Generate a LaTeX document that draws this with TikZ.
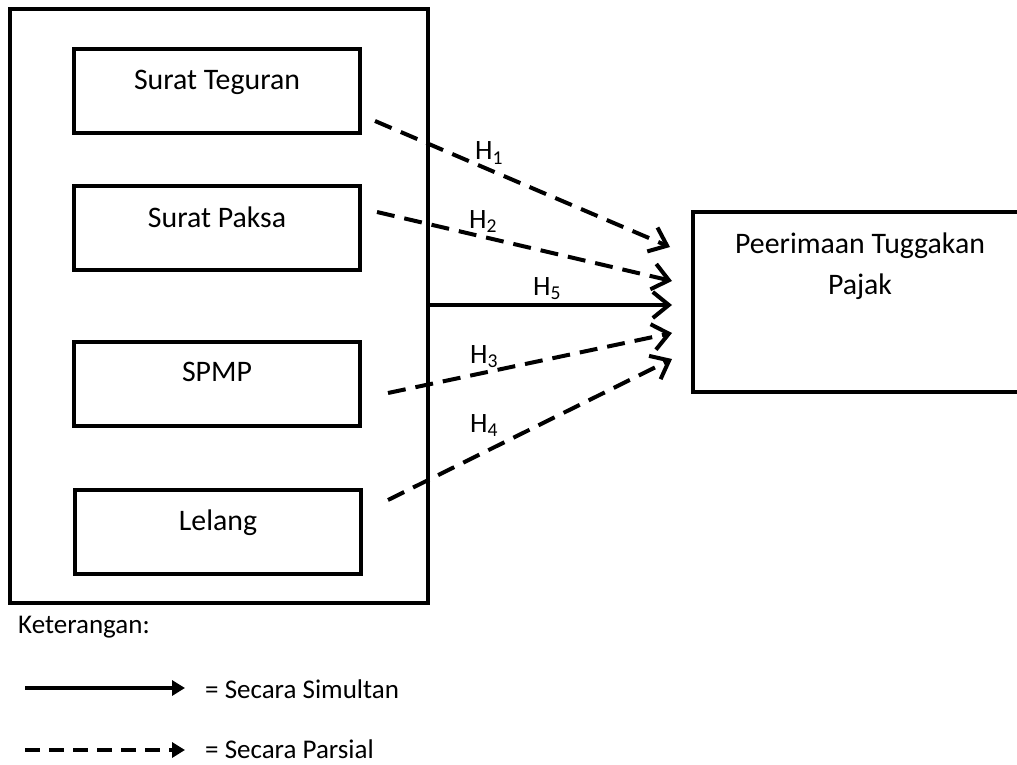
\documentclass[tikz,border=0pt]{standalone}
\usepackage{fontspec}
\setmainfont{Carlito}
\usetikzlibrary{arrows.meta}
\begin{document}
\begin{tikzpicture}[x=1pt,y=-1pt,
  every node/.style={font=\fontsize{28}{34}\selectfont, inner sep=0pt},
  big/.style={font=\fontsize{29.8}{36}\selectfont},
  leg/.style={font=\fontsize{27}{32}\selectfont, anchor=base west},
  frame/.style={draw, line width=4pt, minimum width=286pt, minimum height=84pt},
  lbl/.style={anchor=base},
  hyp/.style={line width=4pt, dash pattern=on 18pt off 10pt, -{Straight Barb[length=16pt,width=26pt]}},
  simul/.style={line width=4pt, -{Straight Barb[length=16pt,width=26pt]}},
  legsolid/.style={line width=3.5pt, -{Triangle[length=13pt,width=15pt]}},
  legdash/.style={line width=3.5pt, dash pattern=on 15pt off 9pt, -{Triangle[length=13pt,width=15pt]}}
]
\useasboundingbox (0,0) rectangle (1017,765);
% outer frame
\node[draw, line width=4pt, minimum width=418pt, minimum height=594pt] (outer) at (219,306) {};
% inner boxes
\node[frame] (b1) at (217,91) {};
\node[frame] (b2) at (217,227.5) {};
\node[frame] (b3) at (217,384) {};
\node[frame] (b4) at (218,532) {};
\node[lbl,big] (t1) at (217,90) {Surat Teguran};
\node[lbl,big] (t2) at (217,227) {Surat Paksa};
\node[lbl,big] (t3) at (217,381) {SPMP};
\node[lbl,big] (t4) at (218,530) {Lelang};
% target box (right edge beyond page)
\node[draw, line width=4pt, minimum width=350pt, minimum height=180pt] (target) at (868,302) {};
\node[lbl,big] (tt1) at (860,253) {Peerimaan Tuggakan};
\node[lbl,big] (tt2) at (860,294) {Pajak};
% arrow ends
\coordinate (s1) at (375,121);
\coordinate (e1) at (670,247);
\coordinate (s2) at (377,212);
\coordinate (e2) at (672,281);
\coordinate (e5) at (672,305);
\coordinate (s3) at (388,393);
\coordinate (e3) at (672,333);
\coordinate (s4) at (388,500);
\coordinate (e4) at (672,359);
\draw[hyp] (s1) -- (e1);
\draw[hyp] (s2) -- (e2);
\draw[simul] (outer.east |- e5) -- (e5);
\draw[hyp] (s3) -- (e3);
\draw[hyp] (s4) -- (e4);
% hypothesis labels
\node[lbl] (h1) at (489,160) {H\textsubscript{1}};
\node[lbl] (h2) at (483,228) {H\textsubscript{2}};
\node[lbl] (h5) at (547,295) {H\textsubscript{5}};
\node[lbl] (h3) at (484,363) {H\textsubscript{3}};
\node[lbl] (h4) at (484,432) {H\textsubscript{4}};
% legend
\node[leg] (ket) at (18,633) {Keterangan:};
\coordinate (l1s) at (25,688);
\coordinate (l1e) at (185,688);
\coordinate (l2s) at (25,750);
\coordinate (l2e) at (185,750);
\draw[legsolid] (l1s) -- (l1e);
\draw[legdash] (l2s) -- (l2e);
\node[leg] (lt1) at (205,698) {= Secara Simultan};
\node[leg] (lt2) at (205,758) {= Secara Parsial};
\end{tikzpicture}
\end{document}
